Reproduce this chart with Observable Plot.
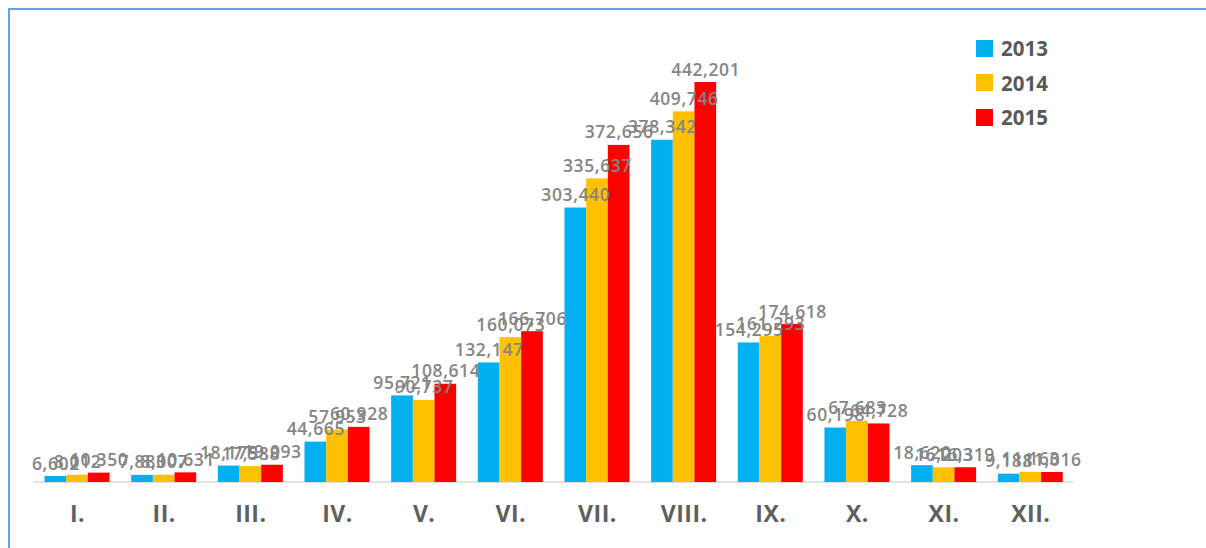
<!DOCTYPE html>
<html><head><meta charset="utf-8">
<script src="https://cdn.jsdelivr.net/npm/d3@7"></script>
<script src="https://cdn.jsdelivr.net/npm/@observablehq/plot@0.6"></script>
<style>
body{margin:0;background:#fff;}
#wrap{position:relative;width:1206px;height:548px;overflow:hidden;background:#fff;}
#frame{position:absolute;left:8px;top:8px;width:1220px;height:560px;border-top:2px solid #6a9fd8;border-left:2px solid #6a9fd8;box-sizing:border-box;}
#legend{position:absolute;left:976px;top:31px;font-family:"Open Sans";font-weight:700;font-size:20.5px;color:#595959;}
.item{display:flex;align-items:center;height:34.5px;}
.sw{width:17px;height:17px;margin-right:8px;}
#chart{position:absolute;left:0;top:0;}
svg g[aria-label="text"] text{letter-spacing:0.6px;}
svg g[aria-label="fx-axis tick label"] text{letter-spacing:0.5px;}
</style></head>
<body>
<div id="wrap">
  <div id="frame"></div>
  <div id="chart"></div>
  <div id="legend"></div>
</div>
<script>
const months = ["I.","II.","III.","IV.","V.","VI.","VII.","VIII.","IX.","X.","XI.","XII."];
const years = ["2013","2014","2015"];
const colors = ["#00b0f0","#ffc000","#ff0000"];
const v2013 = [6602, 7883, 18175, 44665, 95721, 132147, 303440, 378342, 154295, 60198, 18620, 9188];
const v2014 = [8012, 8007, 17588, 57953, 90737, 160073, 335637, 409746, 161293, 67683, 16203, 11163];
const v2015 = [10350, 10631, 19093, 60928, 108614, 166706, 372656, 442201, 174618, 64728, 16319, 11016];

const series = [v2013, v2014, v2015];
const data = [];
months.forEach((m, i) => years.forEach((y, j) => data.push({month: m, year: y, value: series[j][i]})));
const fmt = d3.format(",");

const chart = Plot.plot({
  width: 1206, height: 548,
  marginTop: 82, marginBottom: 66, marginLeft: 33.7, marginRight: 132.4,
  style: {fontFamily: "Open Sans", background: "transparent"},
  fx: {domain: months, paddingInner: 0.25, paddingOuter: 0.125, round: false, label: null, axis: null},
  x: {domain: years, padding: 0, round: false, axis: null},
  y: {domain: [0, 442201], axis: null},
  color: {domain: years, range: colors},
  marks: [
    Plot.barY(data, {fx: "month", x: "year", y: "value", fill: "year"}),
    Plot.text(data, {fx: "month", x: "year", y: "value", text: d => fmt(d.value), lineAnchor: "bottom", dy: -7, fill: "#858585", fontSize: 17.5, fontWeight: 600}),
    Plot.axisFx({anchor: "bottom", tickSize: 0, tickPadding: 23.4, fontSize: 23, fontWeight: "bold", fill: "#5f5f5f", label: null})
  ]
});
document.getElementById("chart").appendChild(chart);

// baseline spanning all month groups, from the library's scales
const fxr = chart.scale("fx").range;
const y0 = chart.scale("y").apply(0);
d3.select(chart).insert("line", ":first-child")
  .attr("x1", fxr[0]).attr("x2", fxr[1]).attr("y1", y0).attr("y2", y0)
  .attr("stroke", "#d9d9d9").attr("stroke-width", 1.5);

const legend = document.getElementById("legend");
years.forEach((y, j) => {
  const it = document.createElement("div");
  it.className = "item";
  it.innerHTML = `<span class="sw" style="background:${colors[j]}"></span><span>${y}</span>`;
  legend.appendChild(it);
});
</script>
</body></html>
